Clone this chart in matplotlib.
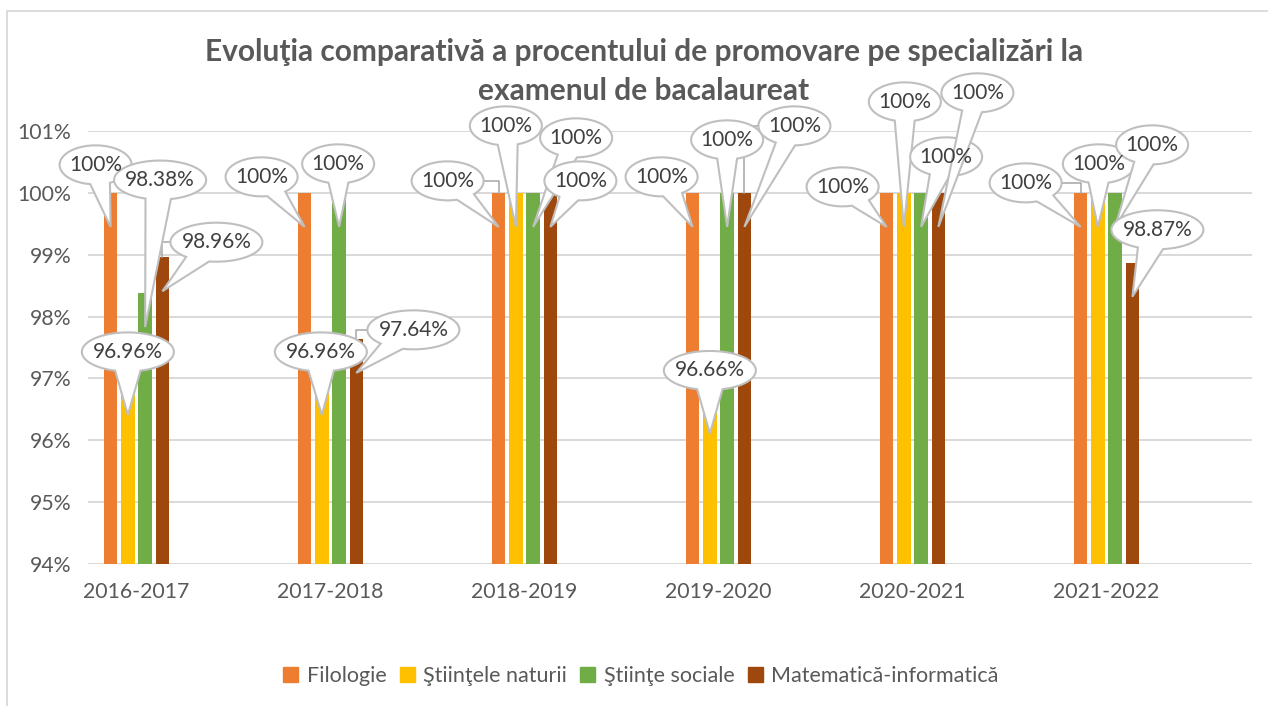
import numpy as np
import matplotlib
matplotlib.use("Agg")
import matplotlib.pyplot as plt
from matplotlib.patches import Polygon, Rectangle
from matplotlib.lines import Line2D

plt.rcParams['font.family'] = ['Lato', 'DejaVu Sans']

# ---------------- data ----------------
years = ["2016-2017", "2017-2018", "2018-2019", "2019-2020", "2020-2021", "2021-2022"]
series_names = ["Filologie", "Ştiinţele naturii", "Ştiinţe sociale", "Matematică-informatică"]
filologie = [100, 100, 100, 100, 100, 100]
stiinte_naturii = [96.96, 96.96, 100, 96.66, 100, 100]
stiinte_sociale = [98.38, 100, 100, 100, 100, 100]
mate_info = [98.96, 97.64, 100, 100, 100, 98.87]
yticks = [94, 95, 96, 97, 98, 99, 100, 101]
title_lines = ["Evoluţia comparativă a procentului de promovare pe specializări la",
               "examenul de bacalaureat"]

# ---------------- style / layout ----------------
colors = ["#ED7D31", "#FFC000", "#70AD47", "#9E480E"]
# callout centre offsets in pixels relative to bar top (+y up)
label_offsets = [
    [(-15, 28), (-43, 16), (-51, 12), (-31, 16), (-44, 6), (-55, 10)],
    [(0, 29), (-1, 29), (-10, 67), (0, 29), (1, 91), (1, 29)],
    [(15, 113), (-1, 29), (43, 55), (0, 53), (25, 36), (37, 48)],
    [(54, 15), (57, 9), (30, 12), (50, 67), (39, 100), (25, 33)],
]
leaders = {(3, 0), (3, 1), (0, 2), (3, 3), (0, 5)}

W, H = 1268, 706
fig = plt.figure(figsize=(W / 100, H / 100), dpi=100)
fig.patch.set_facecolor("white")
fig.add_artist(Rectangle((7 / W, -0.05), 1.2, (H - 11) / H + 0.05, transform=fig.transFigure,
                         fill=False, ec="#D9D9D9", lw=1.3, zorder=0))

ax = fig.add_axes([88 / W, 1 - 564 / H, (1252 - 88) / W, (564 - 131) / H])
ax.set_xlim(-0.25, 5.75)
ax.set_ylim(94, 101)

series = [filologie, stiinte_naturii, stiinte_sociale, mate_info]
x = np.arange(len(years))
step = 0.089
bw = 0.071
for j, vals in enumerate(series):
    ax.bar(x + (j - 1.5) * step, vals, width=bw, color=colors[j], zorder=2,
           label=series_names[j])

ax.set_yticks(yticks)
ax.set_yticklabels([f"{t}%" for t in yticks])
ax.set_xticks(x)
ax.set_xticklabels(years)
ax.yaxis.grid(True, color="#D9D9D9", lw=1.4)
ax.set_axisbelow(True)
for s in ax.spines.values():
    s.set_visible(False)
ax.tick_params(axis="both", length=0, labelsize=15.3, labelcolor="#595959")
ax.tick_params(axis="y", pad=12)
ax.tick_params(axis="x", pad=13)

# title
fig.text(644 / W, 1 - 52 / H, title_lines[0], ha="center", va="center",
         fontsize=21.5, fontweight="bold", color="#595959")
fig.text(644 / W, 1 - 91 / H, title_lines[1], ha="center", va="center",
         fontsize=21.5, fontweight="bold", color="#595959")

# callouts
edge = "#BFBFBF"
for j, vals in enumerate(series):
    for i, v in enumerate(vals):
        xc = x[i] + (j - 1.5) * step
        bx, by = ax.transData.transform((xc, v))
        dx, dy = label_offsets[j][i]
        cx, cy = bx + dx, by + dy
        tx, ty = bx, by - 34
        txt = f"{v:g}%"
        a = 36 if len(txt) <= 4 else 46
        b = 19.5
        if (j, i) in leaders:
            ex = cx - a if cx > bx else cx + a
            pts = np.array([[bx, by], [bx, cy], [ex, cy]])
            fig.add_artist(Line2D(pts[:, 0] / W, pts[:, 1] / H, transform=fig.transFigure,
                                  color="#A6A6A6", lw=1.1, zorder=4))
        theta = np.arctan2((ty - cy) / b, (tx - cx) / a)
        d = 0.28
        t = np.linspace(theta + d, theta + 2 * np.pi - d, 120)
        px = np.concatenate([cx + a * np.cos(t), [tx]])
        py = np.concatenate([cy + b * np.sin(t), [ty]])
        fig.add_artist(Polygon(np.column_stack([px / W, py / H]), closed=True,
                               transform=fig.transFigure, fc="white", ec=edge,
                               lw=1.5, zorder=5))
        fig.text(cx / W, cy / H, txt, ha="center", va="center", fontsize=15,
                 color="#404040", zorder=6)

# legend
handles = [Rectangle((0, 0), 1, 1, color=c) for c in colors]
ax.legend(handles, series_names, loc="center", bbox_to_anchor=(641 / W, 1 - 676 / H),
          bbox_transform=fig.transFigure, ncol=4, frameon=False, handlelength=0.7,
          handleheight=0.7, handletextpad=0.4, columnspacing=0.6, fontsize=15.5,
          labelcolor="#595959")

fig.savefig("out.png", dpi=100, facecolor="white")
